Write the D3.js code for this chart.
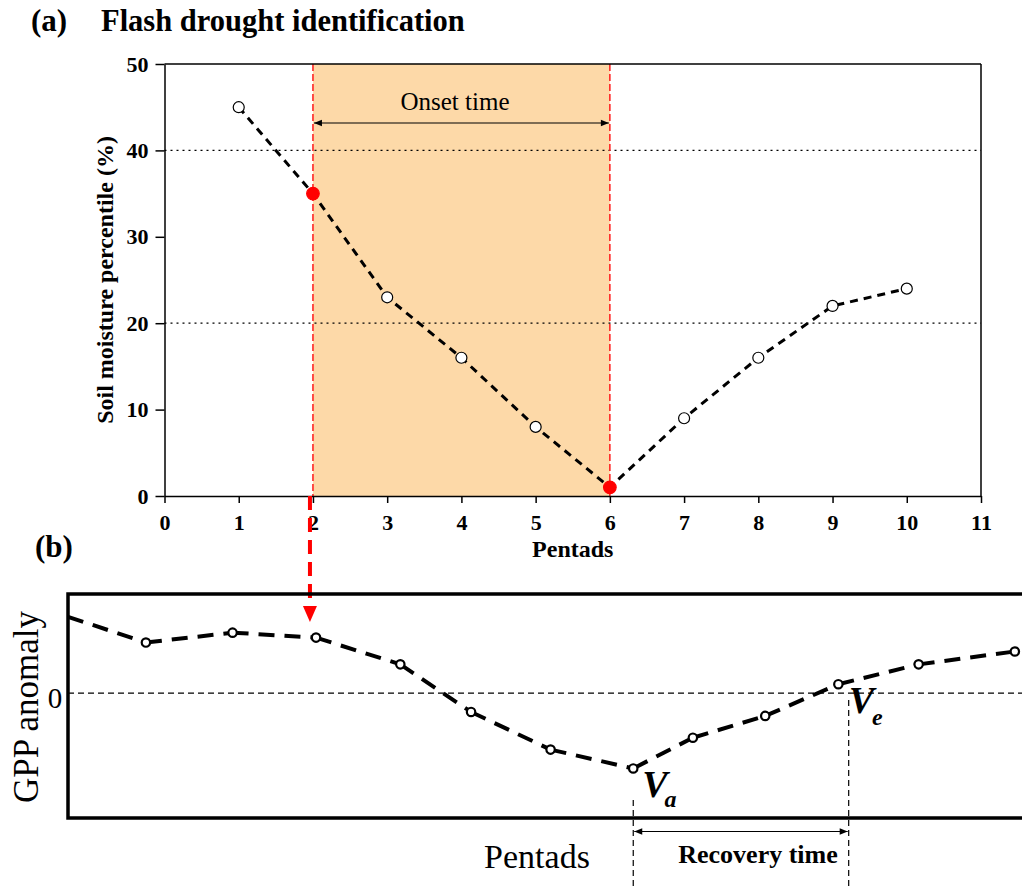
<!DOCTYPE html>
<html>
<head>
<meta charset="utf-8">
<script src="https://cdn.jsdelivr.net/npm/d3@7"></script>
<style>
  body { margin: 0; background: #fff; }
  svg text { font-family: "Liberation Serif", "Times New Roman", serif; }
</style>
</head>
<body>
<div id="chart"></div>
<script>
// panel (a): soil moisture percentile by pentad
var pentads = [1, 2, 3, 4, 5, 6, 7, 8, 9, 10];
var soilMoisture = [45, 35, 23, 16, 8, 1, 9, 16, 22, 24];
var highlight = [2, 6];           // onset start / end (red points)
var thresholds = [40, 20];
var xTicksA = [0, 1, 2, 3, 4, 5, 6, 7, 8, 9, 10, 11];
var yTicksA = [0, 10, 20, 30, 40, 50];

// panel (b): schematic GPP anomaly (relative units)
var gppPos = [0, 0.98, 2.07, 3.12, 4.18, 5.07, 6.07, 7.11, 7.86, 8.77, 9.69, 10.70, 11.91];
var gppVal = [0.77, 0.51, 0.61, 0.56, 0.29, -0.19, -0.57, -0.76, -0.45, -0.23, 0.09, 0.29, 0.42];
var recovery = [7.11, 9.82];      // Va / Ve positions

var W = 1022, H = 886;
var svg = d3.select("#chart").append("svg")
    .attr("width", W)
    .attr("height", H);

// ---------- panel (a) ----------
var xA = d3.scaleLinear().domain([0, 11]).range([164.5, 981]);
var yA = d3.scaleLinear().domain([0, 50]).range([496, 64]);

svg.append("text").attr("x", 31).attr("y", 31)
    .attr("font-size", 31).attr("font-weight", "bold").text("(a)");
svg.append("text").attr("x", 101).attr("y", 31)
    .attr("font-size", 30.5).attr("font-weight", "bold").text("Flash drought identification");

// onset shading
svg.append("rect")
    .attr("x", xA(highlight[0]))
    .attr("y", yA(50))
    .attr("width", xA(highlight[1]) - xA(highlight[0]))
    .attr("height", yA(0) - yA(50))
    .attr("fill", "#fdd9a8");

// threshold lines
svg.selectAll(".thr")
    .data(thresholds)
    .enter().append("line")
    .attr("x1", xA(0)).attr("x2", xA(11))
    .attr("y1", function (d) { return yA(d); })
    .attr("y2", function (d) { return yA(d); })
    .attr("stroke", "#000").attr("stroke-width", 1.2)
    .attr("stroke-dasharray", "2,4");

// red dashed verticals
svg.selectAll(".vred")
    .data(highlight)
    .enter().append("line")
    .attr("x1", function (d) { return xA(d); })
    .attr("x2", function (d) { return xA(d); })
    .attr("y1", yA(50)).attr("y2", yA(0))
    .attr("stroke", "#ff1a1a").attr("stroke-width", 1.5)
    .attr("stroke-dasharray", "7,3");

// frame
svg.append("line").attr("x1", xA(0)).attr("x2", xA(11)).attr("y1", yA(50)).attr("y2", yA(50))
    .attr("stroke", "#000").attr("stroke-width", 1.5);
svg.append("line").attr("x1", xA(11)).attr("x2", xA(11)).attr("y1", yA(50)).attr("y2", yA(0))
    .attr("stroke", "#000").attr("stroke-width", 1.5);

var xAxisA = svg.append("g")
    .attr("transform", "translate(0," + yA(0) + ")")
    .call(d3.axisBottom(xA).tickValues(xTicksA).tickSize(7).tickSizeOuter(0).tickPadding(11));
var yAxisA = svg.append("g")
    .attr("transform", "translate(" + xA(0) + ",0)")
    .call(d3.axisLeft(yA).tickValues(yTicksA).tickSize(9).tickSizeOuter(0).tickPadding(7));
[xAxisA, yAxisA].forEach(function (g) {
    g.selectAll("path, line").attr("stroke", "#000").attr("stroke-width", 1.5);
    g.selectAll("text")
        .attr("font-family", "Liberation Serif")
        .attr("font-size", 22).attr("font-weight", "bold").attr("fill", "#000");
});

svg.append("text")
    .attr("x", xA(5.5)).attr("y", 557)
    .attr("text-anchor", "middle")
    .attr("font-size", 24).attr("font-weight", "bold").text("Pentads");
svg.append("text")
    .attr("transform", "translate(113," + yA(25) + ") rotate(-90)")
    .attr("text-anchor", "middle")
    .attr("font-size", 24).attr("font-weight", "bold").text("Soil moisture percentile (%)");

// onset arrow
var defs = svg.append("defs");
defs.append("marker").attr("id", "ah").attr("viewBox", "0 0 10 10")
    .attr("refX", 10).attr("refY", 5)
    .attr("markerWidth", 11).attr("markerHeight", 8)
    .attr("markerUnits", "userSpaceOnUse")
    .attr("orient", "auto-start-reverse")
    .append("path").attr("d", "M0,1 L10,5 L0,9 Z").attr("fill", "#000");

svg.append("line")
    .attr("x1", xA(highlight[0]) + 1).attr("x2", xA(highlight[1]) - 1)
    .attr("y1", 123).attr("y2", 123)
    .attr("stroke", "#000").attr("stroke-width", 1.2)
    .attr("marker-start", "url(#ah)").attr("marker-end", "url(#ah)");
svg.append("text")
    .attr("x", 455).attr("y", 110)
    .attr("text-anchor", "middle")
    .attr("font-size", 25).text("Onset time");

// soil moisture line
var lineA = d3.line()
    .x(function (d, i) { return xA(pentads[i]); })
    .y(function (d) { return yA(d); });
svg.append("path")
    .datum(soilMoisture)
    .attr("d", lineA)
    .attr("fill", "none").attr("stroke", "#000")
    .attr("stroke-width", 3).attr("stroke-dasharray", "8,6");

svg.selectAll(".pa")
    .data(soilMoisture)
    .enter().append("circle")
    .attr("cx", function (d, i) { return xA(pentads[i]); })
    .attr("cy", function (d) { return yA(d); })
    .attr("r", function (d, i) { return highlight.indexOf(pentads[i]) >= 0 ? 6.3 : 5.5; })
    .attr("fill", function (d, i) { return highlight.indexOf(pentads[i]) >= 0 ? "#ff0000" : "#fff"; })
    .attr("stroke", function (d, i) { return highlight.indexOf(pentads[i]) >= 0 ? "#ff0000" : "#000"; })
    .attr("stroke-width", 1.2);

// red link arrow down to panel (b)
var linkX = xA(highlight[0]) - 3;
svg.append("line")
    .attr("x1", linkX).attr("x2", linkX)
    .attr("y1", yA(0)).attr("y2", 606)
    .attr("stroke", "#ff0000").attr("stroke-width", 4)
    .attr("stroke-dasharray", "14,8");
svg.append("path")
    .attr("d", "M" + (linkX - 7) + ",606 L" + (linkX + 7) + ",606 L" + linkX + ",622 Z")
    .attr("fill", "#ff0000");

// ---------- panel (b) ----------
var xB = d3.scaleLinear().domain([0, 12]).range([68, 1022]);
var yB = d3.scaleLinear().domain([-1.26, 1]).range([818, 594]);

svg.append("text").attr("x", 35).attr("y", 557)
    .attr("font-size", 31).attr("font-weight", "bold").text("(b)");

// zero line
svg.append("line")
    .attr("x1", xB(0)).attr("x2", W)
    .attr("y1", yB(0)).attr("y2", yB(0))
    .attr("stroke", "#000").attr("stroke-width", 1.2)
    .attr("stroke-dasharray", "6,4");

// frame (open on right, runs off the page)
svg.append("path")
    .attr("d", "M" + (W + 5) + "," + yB(1) + " L" + xB(0) + "," + yB(1) +
        " L" + xB(0) + "," + yB(-1.26) + " L" + (W + 5) + "," + yB(-1.26))
    .attr("fill", "none").attr("stroke", "#000").attr("stroke-width", 3.5);

svg.append("text")
    .attr("x", 55).attr("y", 708)
    .attr("text-anchor", "middle")
    .attr("font-size", 29).text("0");
svg.append("text")
    .attr("transform", "translate(38," + 707 + ") rotate(-90)")
    .attr("text-anchor", "middle")
    .attr("font-size", 35).text("GPP anomaly");

// GPP line drawn segment by segment so each dash starts at a point
var segs = d3.pairs(d3.range(gppPos.length));
svg.selectAll(".segb")
    .data(segs)
    .enter().append("line")
    .attr("x1", function (d) { return xB(gppPos[d[0]]); })
    .attr("y1", function (d) { return yB(gppVal[d[0]]); })
    .attr("x2", function (d) { return xB(gppPos[d[1]]); })
    .attr("y2", function (d) { return yB(gppVal[d[1]]); })
    .attr("stroke", "#000").attr("stroke-width", 4)
    .attr("stroke-dasharray", "16,10");

svg.selectAll(".pb")
    .data(gppVal.slice(1))
    .enter().append("circle")
    .attr("cx", function (d, i) { return xB(gppPos[i + 1]); })
    .attr("cy", function (d) { return yB(d); })
    .attr("r", 4.2)
    .attr("fill", "#fff").attr("stroke", "#000").attr("stroke-width", 2.2);

// Va / Ve markers
var va = xB(recovery[0]), ve = xB(recovery[1]);
svg.append("line").attr("x1", va).attr("x2", va).attr("y1", 800).attr("y2", H)
    .attr("stroke", "#000").attr("stroke-width", 1.2).attr("stroke-dasharray", "6,4");
svg.append("line").attr("x1", ve).attr("x2", ve).attr("y1", 700).attr("y2", H)
    .attr("stroke", "#000").attr("stroke-width", 1.2).attr("stroke-dasharray", "6,4");

var vaT = svg.append("text").attr("x", va + 9).attr("y", 797)
    .attr("font-size", 38).attr("font-weight", "bold").attr("font-style", "italic");
vaT.append("tspan").text("V");
vaT.append("tspan").attr("font-size", 24).attr("dx", -3).attr("dy", 10).text("a");

var veT = svg.append("text").attr("x", ve + 0).attr("y", 713)
    .attr("font-size", 38).attr("font-weight", "bold").attr("font-style", "italic");
veT.append("tspan").text("V");
veT.append("tspan").attr("font-size", 24).attr("dx", -2).attr("dy", 12).text("e");

// recovery arrow
svg.append("line")
    .attr("x1", va + 1).attr("x2", ve - 1)
    .attr("y1", 831.5).attr("y2", 831.5)
    .attr("stroke", "#000").attr("stroke-width", 1.2)
    .attr("marker-start", "url(#ah)").attr("marker-end", "url(#ah)");
svg.append("text")
    .attr("x", 758).attr("y", 863)
    .attr("text-anchor", "middle")
    .attr("font-size", 26).attr("font-weight", "bold").text("Recovery time");

svg.append("text")
    .attr("x", 537).attr("y", 868)
    .attr("text-anchor", "middle")
    .attr("font-size", 34).text("Pentads");
</script>
</body>
</html>
